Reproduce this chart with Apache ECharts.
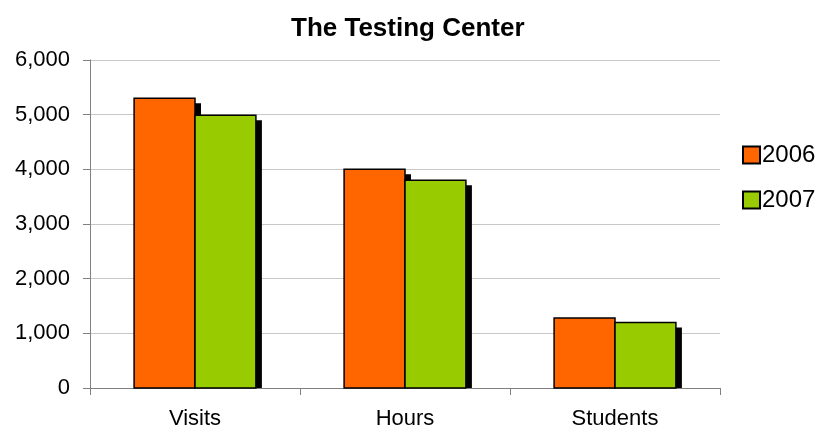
<!DOCTYPE html>
<html>
<head>
<meta charset="utf-8">
<script src="https://cdn.jsdelivr.net/npm/echarts@6/dist/echarts.min.js"></script>
<style>
  html, body { margin: 0; padding: 0; background: #fff; }
  #chart { width: 826px; height: 434px; }
</style>
</head>
<body>
<div id="chart"></div>
<script>
var categories = ['Visits', 'Hours', 'Students'];
var years = ['2006', '2007'];
var values2006 = [5300, 4000, 1280];
var values2007 = [4990, 3800, 1200];
var yearColors = ['#ff6600', '#99cc00'];

var chartDom = document.getElementById('chart');
var myChart = echarts.init(chartDom);

// bar with a hard black drop shadow to the lower right, cut off at the axis
function renderBar(params, api) {
  var cat = api.value(0);
  var val = api.value(1);
  var base = api.coord([cat, 0]);
  var top = api.coord([cat, val]);
  var band = api.size([1, 0])[0];
  var w = band * 0.29;
  var x = base[0] - w + params.seriesIndex * w;
  var sx = 6, sy = 5;
  return {
    type: 'group',
    children: [
      {
        type: 'rect',
        shape: { x: x + sx, y: top[1] + sy, width: w, height: base[1] - top[1] - sy },
        style: { fill: '#000' }
      },
      {
        type: 'rect',
        shape: { x: x, y: top[1], width: w, height: base[1] - top[1] },
        style: { fill: yearColors[params.seriesIndex], stroke: '#000', lineWidth: 1.5 }
      }
    ]
  };
}

function toPairs(arr) {
  return arr.map(function (v, i) { return [i, v]; });
}

var option = {
  animation: false,
  textStyle: { fontFamily: 'Liberation Sans, Arial, sans-serif' },
  title: {
    text: 'The Testing Center',
    left: 286,
    top: 11,
    textStyle: { fontSize: 26, fontWeight: 'bold', color: '#000' }
  },
  legend: {
    orient: 'vertical',
    left: 737,
    top: 138,
    itemWidth: 17,
    itemHeight: 17,
    itemGap: 21,
    icon: 'rect',
    textStyle: { fontSize: 24, lineHeight: 24, color: '#000', padding: [0, 0, 0, -3] },
    data: years.map(function (y) {
      return { name: y, itemStyle: { borderColor: '#000', borderWidth: 2 } };
    })
  },
  grid: { left: 90, right: 106, top: 60, bottom: 46 },
  xAxis: {
    type: 'category',
    data: categories,
    axisLine: { lineStyle: { color: '#808080', width: 1 } },
    axisTick: { show: true, length: 7, lineStyle: { color: '#808080' } },
    axisLabel: { fontSize: 22, color: '#000', margin: 20 }
  },
  yAxis: {
    type: 'value',
    min: 0,
    max: 6000,
    interval: 1000,
    axisLine: { show: true, lineStyle: { color: '#808080', width: 1 } },
    axisTick: { show: true, length: 7, lineStyle: { color: '#808080' } },
    axisLabel: {
      fontSize: 22,
      color: '#000',
      margin: 20,
      formatter: function (v) { return v.toLocaleString('en-US'); }
    },
    splitLine: { lineStyle: { color: '#c8c8c8', width: 1 } }
  },
  series: [
    {
      name: years[0],
      type: 'custom',
      renderItem: renderBar,
      encode: { x: 0, y: 1 },
      itemStyle: { color: yearColors[0] },
      data: toPairs(values2006)
    },
    {
      name: years[1],
      type: 'custom',
      renderItem: renderBar,
      encode: { x: 0, y: 1 },
      itemStyle: { color: yearColors[1] },
      data: toPairs(values2007)
    }
  ]
};
option && myChart.setOption(option);
</script>
</body>
</html>
